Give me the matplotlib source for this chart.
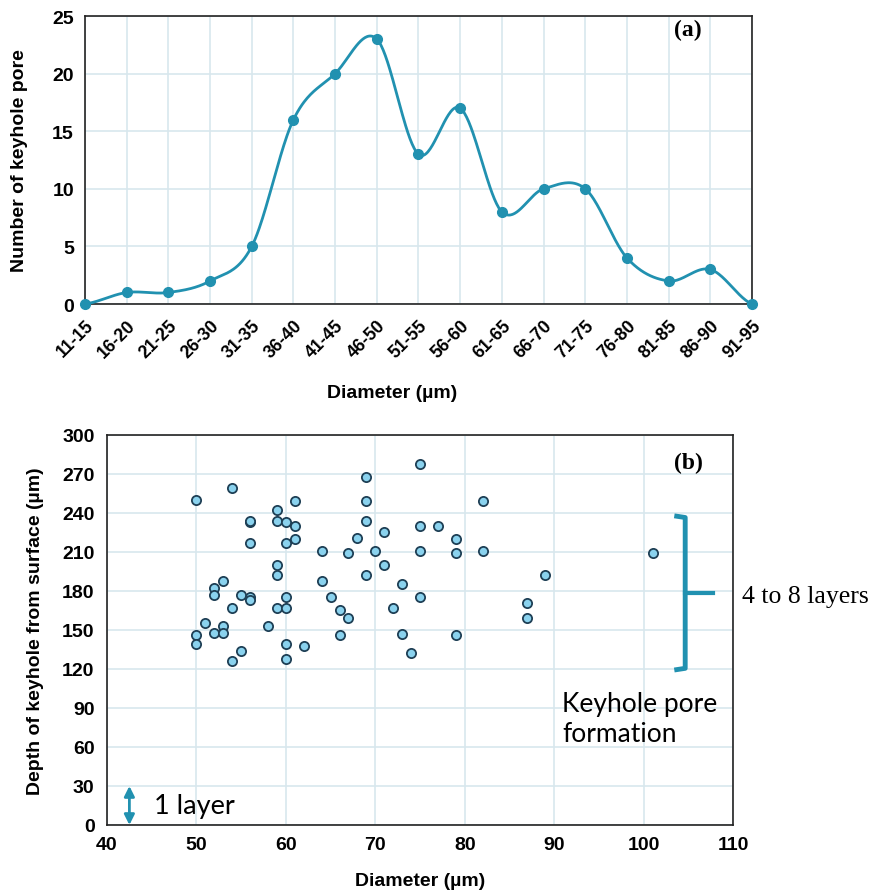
import numpy as np
import matplotlib.pyplot as plt

# (a) keyhole pore count per diameter bin
bins = ['11-15', '16-20', '21-25', '26-30', '31-35', '36-40', '41-45', '46-50',
        '51-55', '56-60', '61-65', '66-70', '71-75', '76-80', '81-85', '86-90', '91-95']
counts = [0, 1, 1, 2, 5, 16, 20, 23, 13, 17, 8, 10, 10, 4, 2, 3, 0]

# (b) pore diameter vs depth below surface
diam = [50, 54, 56, 56, 59, 61, 59, 60, 61, 56, 60, 61, 68, 64, 67, 59, 59, 53, 52, 52,
        55, 56, 56, 54, 59, 60, 60, 64, 65, 66, 67, 51, 53, 58, 50, 52, 53, 66, 50, 60,
        62, 55, 54, 60, 75, 69, 69, 82, 69, 71, 75, 77, 79, 70, 75, 79, 82, 71, 69, 73,
        75, 72, 73, 79, 74, 101, 89, 87, 87]
depth = [250, 259, 233, 234, 242, 249, 234, 233, 230, 217, 217, 220, 221, 211, 209, 200, 192, 188, 182, 177,
         177, 175, 173, 167, 167, 167, 175, 188, 175, 165, 159, 155, 153, 153, 146, 148, 148, 146, 139, 139,
         138, 134, 126, 128, 278, 268, 249, 249, 234, 225, 230, 230, 220, 211, 211, 209, 211, 200, 192, 185,
         175, 167, 147, 146, 132, 209, 192, 171, 159]

blue = '#2191B0'
grid_c = '#D8E7ED'
sans = ['Liberation Sans', 'DejaVu Sans']
serif = 'Liberation Serif'
calib = 'Lato'


def smooth(y, n=40):
    # catmull-rom style bezier, like excel's smoothed line
    y = np.asarray(y, float)
    p = np.concatenate([[y[0]], y, [y[-1]]])
    xs, ys = [], []
    t = np.linspace(0, 1, n)
    for i in range(len(y) - 1):
        p0, p1, p2, p3 = p[i], p[i + 1], p[i + 2], p[i + 3]
        c1 = p1 + (p2 - p0) / 6
        c2 = p2 - (p3 - p1) / 6
        b = (1 - t)**3 * p1 + 3 * (1 - t)**2 * t * c1 + 3 * (1 - t) * t**2 * c2 + t**3 * p2
        xs.append(i + t)
        ys.append(b)
    return np.concatenate(xs), np.concatenate(ys)


def px(xp, yp):
    return xp / 878, 1 - yp / 895


fig = plt.figure(figsize=(8.78, 8.95), dpi=100)

# ---- (a)
ax1 = fig.add_axes([0.0968, 0.6592, 0.7597, 0.3218])
x = np.arange(len(bins))
sx, sy = smooth(counts)
ax1.plot(sx, sy, color=blue, lw=2, zorder=3, clip_on=False)
ax1.plot(x, counts, 'o', color=blue, ms=7, zorder=4, clip_on=False)
ax1.set_xlim(0, len(bins) - 1)
ax1.set_ylim(0, 25)
ax1.set_yticks(range(0, 26, 5))
ax1.set_xticks(x)
ax1.set_xticklabels(bins, rotation=45, ha='right', va='top', rotation_mode='anchor',
                    fontfamily=sans, fontweight='bold', fontsize=12.8)
for lab in ax1.get_yticklabels():
    lab.set_fontfamily(sans)
    lab.set_fontweight('bold')
    lab.set_fontsize(14)
ax1.tick_params(length=0, pad=8)
ax1.tick_params(axis='x', pad=9)
ax1.grid(True, color=grid_c, lw=1.2)
ax1.set_axisbelow(True)
for s in ax1.spines.values():
    s.set_color('#222222')
    s.set_linewidth(1.2)
fig.text(*px(20, 161), 'Number of keyhole pore', rotation=90, ha='center', va='center',
         fontfamily=sans, fontweight='bold', fontsize=14)
fig.text(*px(392, 393), 'Diameter (µm)', ha='center', va='center',
         fontfamily=sans, fontweight='bold', fontsize=14)
fig.text(*px(688, 30), '(a)', ha='center', va='center',
         fontfamily=serif, fontweight='bold', fontsize=17)

# ---- (b)
ax2 = fig.add_axes([0.1219, 0.0771, 0.7130, 0.4358])
ax2.scatter(diam, depth, s=44, facecolor='#8AD2EE', edgecolor='#1E3F55', linewidth=1.3, zorder=3)
ax2.set_xlim(40, 110)
ax2.set_ylim(0, 300)
ax2.set_xticks(range(40, 111, 10))
ax2.set_yticks(range(0, 301, 30))
for lab in ax2.get_xticklabels() + ax2.get_yticklabels():
    lab.set_fontfamily(sans)
    lab.set_fontweight('bold')
    lab.set_fontsize(14)
ax2.tick_params(length=0, pad=9)
ax2.tick_params(axis='x', pad=8)
ax2.grid(True, color=grid_c, lw=1.2)
ax2.set_axisbelow(True)
for s in ax2.spines.values():
    s.set_color('#222222')
    s.set_linewidth(1.2)
fig.text(*px(36, 631), 'Depth of keyhole from surface (µm)', rotation=90, ha='center', va='center',
         fontfamily=sans, fontweight='bold', fontsize=14)
fig.text(*px(420, 882), 'Diameter (µm)', ha='center', va='center',
         fontfamily=sans, fontweight='bold', fontsize=14)
fig.text(*px(688, 463), '(b)', ha='center', va='center',
         fontfamily=serif, fontweight='bold', fontsize=17)

# 1 layer arrow
ax2.annotate('', xy=(42.5, 0), xytext=(42.5, 30),
             arrowprops=dict(arrowstyle='<|-|>', color=blue, lw=2, mutation_scale=15, shrinkA=0, shrinkB=0))
ax2.text(45.3, 15, '1 layer', fontfamily=calib, fontsize=19.5, va='center', ha='left')

# bracket 4 to 8 layers
bx = 104.65
ax2.plot([103.7, bx, bx, 103.7], [237.5, 236.5, 120.5, 119.5], color=blue, lw=3.5,
         solid_joinstyle='round', clip_on=False, zorder=4)
ax2.plot([bx, 107.8], [178.5, 178.5], color=blue, lw=3, clip_on=False, zorder=4)
fig.text(*px(742, 597), '4 to 8 layers', fontfamily=serif, fontsize=18.5, ha='left', va='center')
ax2.text(90.9, 82, 'Keyhole pore\nformation', fontfamily=calib, fontsize=19, ha='left', va='center',
         linespacing=1.25)

plt.savefig('out.png', dpi=100)
